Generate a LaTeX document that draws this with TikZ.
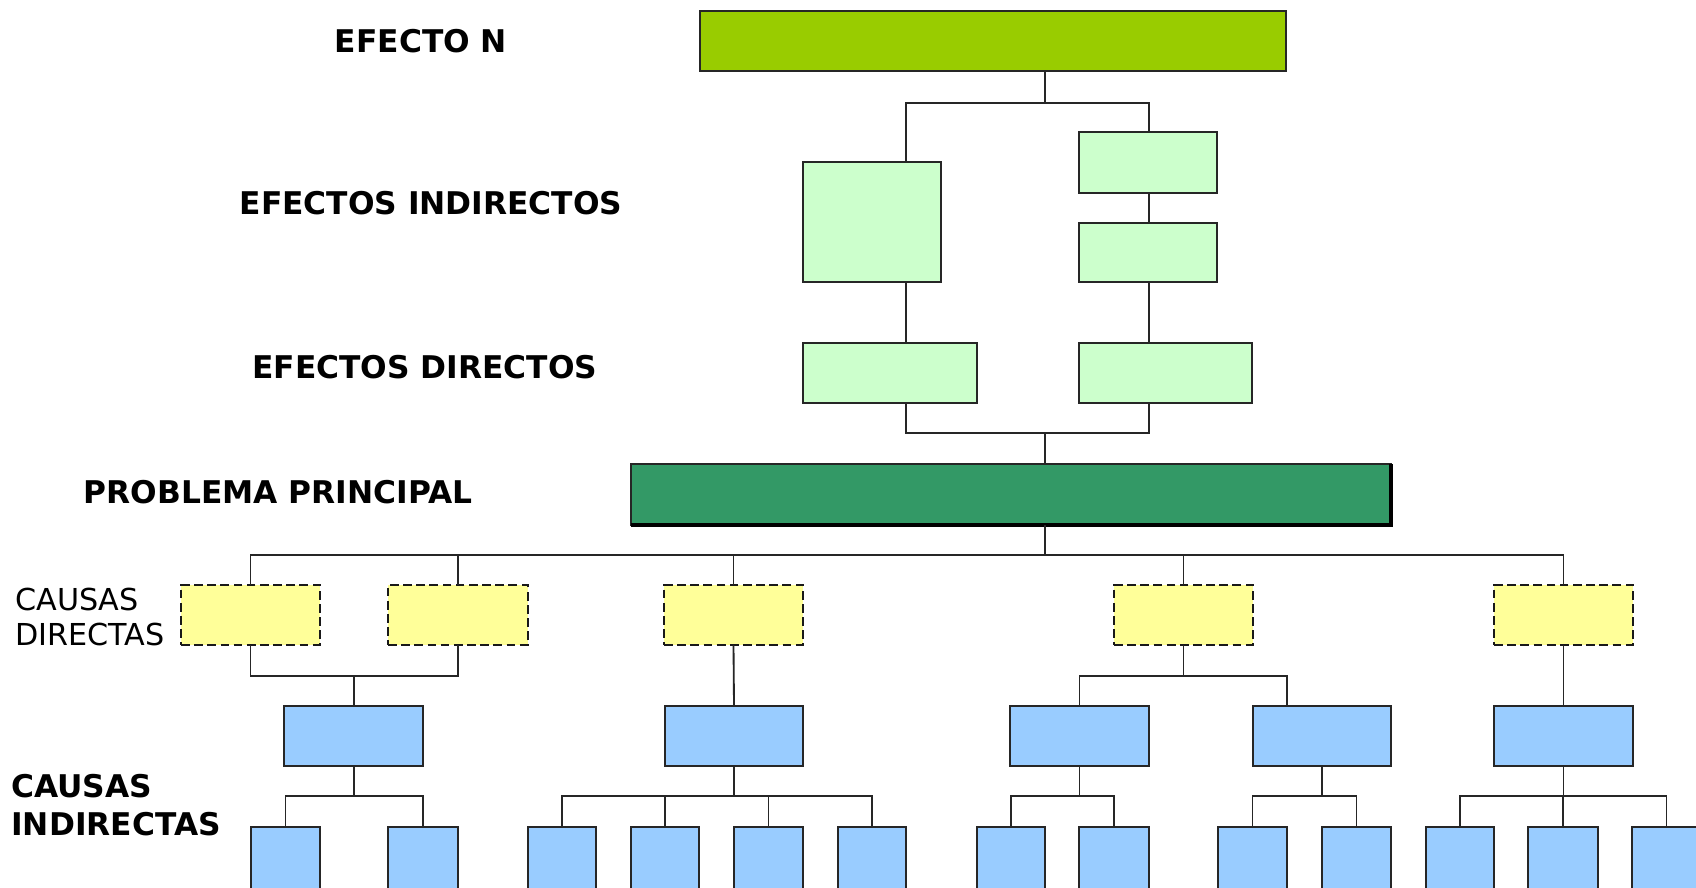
\documentclass[tikz,border=0pt]{standalone}
\usepackage{fontspec}
\setmainfont{DejaVu Sans}
\definecolor{topgreen}{HTML}{99CC00}
\definecolor{lightgreen}{HTML}{CCFFCC}
\definecolor{darkgreen}{HTML}{339966}
\definecolor{paleyellow}{HTML}{FFFF99}
\definecolor{paleblue}{HTML}{99CCFF}
\newcommand\mkbox[6]{%
  \pgfmathsetmacro\myW{(#5-#3)*0.02}%
  \pgfmathsetmacro\myH{(#6-#4)*0.02}%
  \node[#2, minimum width=\myW cm, minimum height=\myH cm] (#1) at ({(#3+#5)/2},{(#4+#6)/2}) {};}
\begin{document}
\begin{tikzpicture}[x=0.02cm,y=-0.02cm,
  boxbase/.style={draw=black!85, line width=1.05pt, inner sep=0pt, outer sep=0pt},
  greenbox/.style={boxbase, fill=topgreen},
  effbox/.style={boxbase, fill=lightgreen},
  probbox/.style={boxbase, fill=darkgreen},
  causebox/.style={boxbase, draw=black!90, fill=paleyellow, dash pattern=on 5pt off 2.5pt},
  indbox/.style={boxbase, fill=paleblue},
  conn/.style={draw=black!85, line width=1.05pt},
  biglabel/.style={font=\bfseries\fontsize{17.8}{22}\selectfont, inner sep=0pt},
  smalllabel/.style={font=\fontsize{17.2}{20}\selectfont, inner sep=0pt, align=left, anchor=west}]
\useasboundingbox (0,0) rectangle (1696,887);
\clip (0,0) rectangle (1696,887);
\fill[white] (0,0) rectangle (1696,887);

% labels
\node[biglabel] (lab1) at (421,41) {EFECTO N};
\node[biglabel] (lab2) at (431,203) {EFECTOS INDIRECTOS};
\node[biglabel] (lab3) at (425,367) {EFECTOS DIRECTOS};
\node[biglabel] (lab4) at (278,492) {PROBLEMA PRINCIPAL};
\node[smalllabel] (lab5) at (15,617) {CAUSAS\\DIRECTAS};
\node[biglabel, align=left, anchor=west] (lab6) at (11,805) {CAUSAS\\INDIRECTAS};

% effects
\mkbox{top}{greenbox}{700}{11}{1286}{71}
\mkbox{ie1}{effbox}{803}{162}{941}{282}
\mkbox{ie2}{effbox}{1079}{132}{1217}{193}
\mkbox{ie3}{effbox}{1079}{223}{1217}{282}
\mkbox{de1}{effbox}{803}{343}{977}{403}
\mkbox{de2}{effbox}{1079}{343}{1252}{403}
\mkbox{pp}{probbox}{631}{464}{1391}{525}
\draw[line width=2.4pt, black] (pp.south west) -- (pp.south east) -- (pp.north east);

% direct causes
\mkbox{cd1}{causebox}{181}{585}{320}{645}
\mkbox{cd2}{causebox}{388}{585}{528}{645}
\mkbox{cd3}{causebox}{664}{585}{803}{645}
\mkbox{cd4}{causebox}{1114}{585}{1253}{645}
\mkbox{cd5}{causebox}{1494}{585}{1633}{645}

% indirect causes
\mkbox{ci1}{indbox}{284}{706}{423}{766}
\mkbox{ci2}{indbox}{665}{706}{803}{766}
\mkbox{ci3}{indbox}{1010}{706}{1149}{766}
\mkbox{ci4}{indbox}{1253}{706}{1391}{766}
\mkbox{ci5}{indbox}{1494}{706}{1633}{766}

% leaves
\mkbox{l11}{indbox}{251}{827}{320}{900}
\mkbox{l12}{indbox}{388}{827}{458}{900}
\mkbox{l21}{indbox}{528}{827}{596}{900}
\mkbox{l22}{indbox}{631}{827}{699}{900}
\mkbox{l23}{indbox}{734}{827}{803}{900}
\mkbox{l24}{indbox}{838}{827}{906}{900}
\mkbox{l31}{indbox}{977}{827}{1045}{900}
\mkbox{l32}{indbox}{1079}{827}{1149}{900}
\mkbox{l41}{indbox}{1218}{827}{1287}{900}
\mkbox{l42}{indbox}{1322}{827}{1391}{900}
\mkbox{l51}{indbox}{1426}{827}{1494}{900}
\mkbox{l52}{indbox}{1528}{827}{1598}{900}
\mkbox{l53}{indbox}{1632}{827}{1701}{900}

% connectors: effects
\coordinate (jt) at (1045,103);
\coordinate (xl) at (906,0);
\coordinate (xr) at (1149,0);
\coordinate (jb) at (1045,433);
\draw[conn] (top.south -| jt) -- (jt);
\draw[conn] (ie1.north -| xl) |- (jt) -| (ie2.north -| xr);
\draw[conn] (ie1.south -| xl) -- (de1.north -| xl);
\draw[conn] (ie2.south -| xr) -- (ie3.north -| xr);
\draw[conn] (ie3.south -| xr) -- (de2.north -| xr);
\draw[conn] (de1.south -| xl) |- (jb) -| (de2.south -| xr);
\draw[conn] (jb) -- (pp.north -| jb);

% connectors: causes
\coordinate (bus) at (1045,555);
\draw[conn] (pp.south -| bus) -- (bus);
\draw[conn] (cd1.north) |- (bus) -| (cd5.north);
\draw[conn] (cd2.north) -- (cd2.north |- bus);
\draw[conn] (cd3.north) -- (cd3.north |- bus);
\draw[conn] (cd4.north) -- (cd4.north |- bus);

\coordinate (j1) at (354,676);
\draw[conn] (cd1.south) |- (j1) -| (cd2.south);
\draw[conn] (j1) -- (ci1.north -| j1);
\draw[conn] (cd3.south) -- (ci2.north);
\coordinate (j4) at (1183.5,676);
\coordinate (k4) at (1287,676);
\draw[conn] (cd4.south) -- (j4);
\draw[conn] (ci3.north) |- (k4) -- (ci4.north -| k4);
\draw[conn] (cd5.south) -- (ci5.north);

% connectors: leaves
\coordinate (b1) at (354,796);
\draw[conn] (ci1.south -| b1) -- (b1);
\draw[conn] (l11.north) |- (b1) -| (l12.north);
\coordinate (b2) at (734,796);
\draw[conn] (ci2.south -| b2) -- (b2);
\draw[conn] (l21.north) |- (b2) -| (l24.north);
\draw[conn] (l22.north) -- (l22.north |- b2);
\draw[conn] (l23.north) -- (l23.north |- b2);
\coordinate (b3) at (1079.5,796);
\draw[conn] (ci3.south) -- (b3);
\draw[conn] (l31.north) |- (b3) -| (l32.north);
\coordinate (b4) at (1322,796);
\draw[conn] (ci4.south -| b4) -- (b4);
\draw[conn] (l41.north) |- (b4) -| (l42.north);
\coordinate (b5) at (1563.5,796);
\draw[conn] (ci5.south) -- (b5);
\draw[conn] (l51.north) |- (b5) -| (l53.north);
\draw[conn] (l52.north) -- (l52.north |- b5);
\end{tikzpicture}
\end{document}
